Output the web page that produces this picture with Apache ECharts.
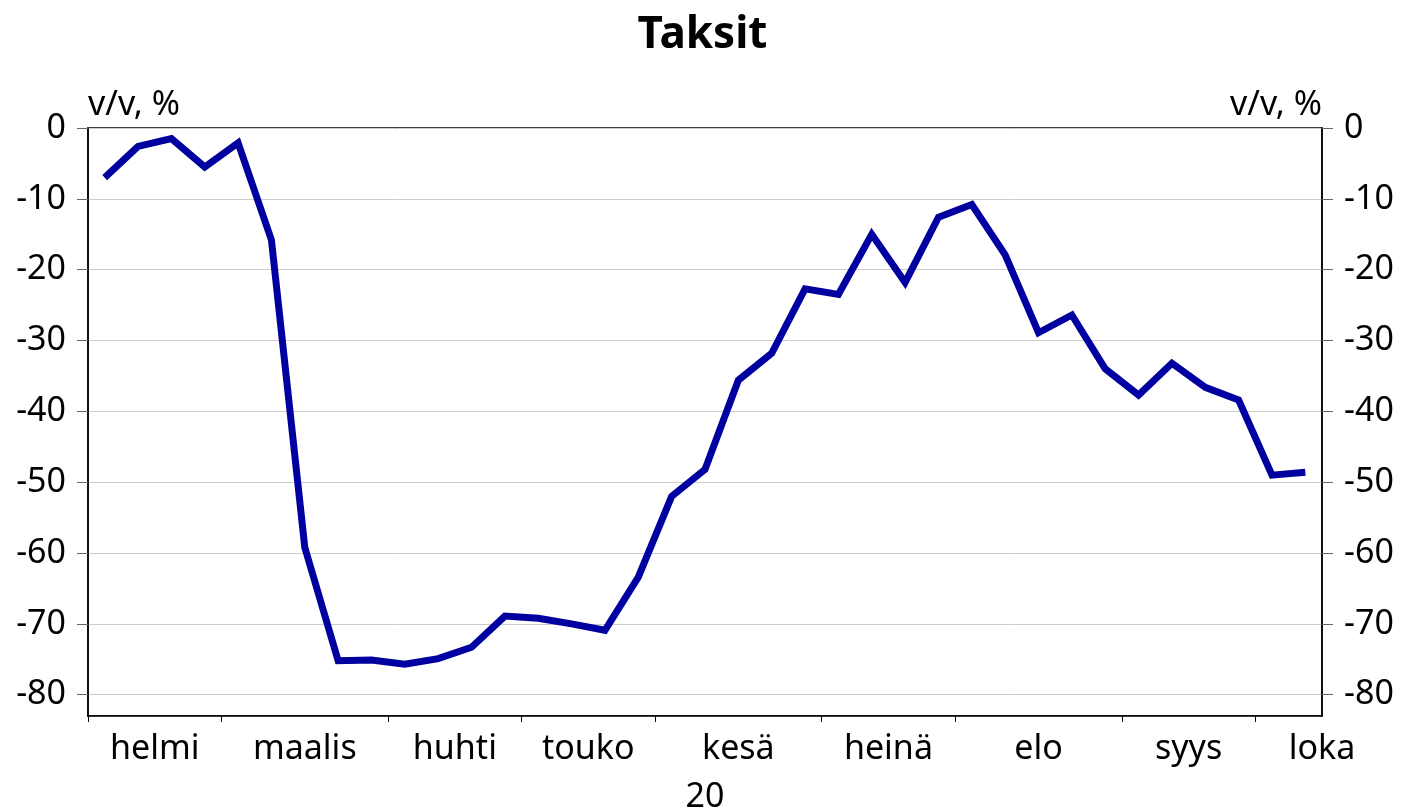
<!DOCTYPE html>
<html>
<head>
<meta charset="utf-8">
<script src="https://cdn.jsdelivr.net/npm/echarts@6/dist/echarts.min.js"></script>
<style>
html,body{margin:0;padding:0;background:#fff;}
#chart{width:1405px;height:812px;}
</style>
</head>
<body>
<div id="chart"></div>
<script>
// Weekly observations (week start dates), Feb–Oct 2020
const weeks = [
  '2020-02-03','2020-02-10','2020-02-17','2020-02-24',
  '2020-03-02','2020-03-09','2020-03-16','2020-03-23','2020-03-30',
  '2020-04-06','2020-04-13','2020-04-20','2020-04-27',
  '2020-05-04','2020-05-11','2020-05-18','2020-05-25',
  '2020-06-01','2020-06-08','2020-06-15','2020-06-22','2020-06-29',
  '2020-07-06','2020-07-13','2020-07-20','2020-07-27',
  '2020-08-03','2020-08-10','2020-08-17','2020-08-24','2020-08-31',
  '2020-09-07','2020-09-14','2020-09-21','2020-09-28',
  '2020-10-05','2020-10-12'
];
const taksit = [
  -7.0, -2.6, -1.5, -5.5,
  -2.1, -15.8, -59.2, -75.2, -75.1,
  -75.7, -74.9, -73.3, -68.9,
  -69.2, -70.0, -70.9, -63.4,
  -52.0, -48.2, -35.6, -31.8, -22.7,
  -23.5, -15.0, -21.8, -12.6,
  -10.8, -17.9, -28.9, -26.4, -34.0,
  -37.7, -33.2, -36.6, -38.4,
  -49.0, -48.6
];
const monthNames = ['helmi','maalis','huhti','touko','kesä','heinä','elo','syys','loka'];
// number of weeks in each month (loka taken as a full 4-week month for label centring)
const monthWeeks = [4,5,4,4,5,4,5,4,4];
const yearLabel = '20';
const titleText = 'Taksit';
const unitLabel = 'v/v, %';

// month boundaries and label centres in week units
const tickPos = [];
const labelPos = [];
let acc = 0;
monthWeeks.forEach(function (w) {
  tickPos.push(acc);
  labelPos.push(acc + w / 2);
  acc += w;
});
const labelMap = {};
labelPos.forEach(function (p, i) { labelMap[p.toFixed(2)] = monthNames[i]; });

const FONT = 'Noto Sans';
const FS = 34;
const chart = echarts.init(document.getElementById('chart'), null, {renderer: 'canvas'});
chart.setOption({
  animation: false,
  backgroundColor: '#fff',
  textStyle: {fontFamily: FONT},
  title: {
    text: titleText,
    left: 'center',
    top: 8,
    textStyle: {fontFamily: FONT, fontWeight: 'bold', fontSize: 44, color: '#000'}
  },
  grid: {
    left: 88, right: 83, top: 128, bottom: 96,
    outerBoundsMode: 'none',
    containLabel: false,
    show: true, borderColor: '#000', borderWidth: 1.5, backgroundColor: 'transparent'
  },
  xAxis: [
    {
      type: 'category',
      data: weeks,
      boundaryGap: true,
      show: false,
      axisLine: {onZero: false}
    },
    {
      type: 'value',
      min: 0,
      max: weeks.length,
      position: 'bottom',
      axisLine: {show: true, onZero: false, lineStyle: {color: '#000', width: 1.5}},
      axisTick: {show: true, customValues: tickPos, length: 6, lineStyle: {color: '#000', width: 1}},
      splitLine: {show: false},
      axisLabel: {
        customValues: labelPos,
        showMinLabel: true,
        showMaxLabel: true,
        margin: 16,
        fontSize: FS,
        color: '#000',
        fontFamily: FONT,
        formatter: function (v) { return labelMap[Number(v).toFixed(2)] || ''; }
      },
      name: yearLabel,
      nameLocation: 'middle',
      nameGap: 64,
      nameTextStyle: {fontSize: FS, color: '#000', fontFamily: FONT}
    }
  ],
  yAxis: [
    {
      type: 'value',
      min: -83,
      max: 0,
      splitNumber: 8,
      position: 'left',
      name: unitLabel,
      nameLocation: 'end',
      nameGap: 6,
      nameTextStyle: {fontSize: FS, color: '#000', align: 'left', fontFamily: FONT},
      axisLine: {show: true, lineStyle: {color: '#000', width: 1.5}},
      axisTick: {show: true, length: 11, lineStyle: {color: '#666', width: 1}},
      axisLabel: {showMinLabel: false, margin: 22, fontSize: FS, color: '#000', fontFamily: FONT},
      splitLine: {show: true, lineStyle: {color: '#cccccc', width: 1}}
    },
    {
      type: 'value',
      min: -83,
      max: 0,
      splitNumber: 8,
      position: 'right',
      name: unitLabel,
      nameLocation: 'end',
      nameGap: 6,
      nameTextStyle: {fontSize: FS, color: '#000', align: 'right', fontFamily: FONT},
      axisLine: {show: true, lineStyle: {color: '#000', width: 1.5}},
      axisTick: {show: true, length: 11, lineStyle: {color: '#666', width: 1}},
      axisLabel: {showMinLabel: false, margin: 22, fontSize: FS, color: '#000', fontFamily: FONT},
      splitLine: {show: false}
    }
  ],
  series: [
    {
      type: 'line',
      xAxisIndex: 0,
      yAxisIndex: 0,
      data: taksit,
      showSymbol: false,
      symbol: 'none',
      lineStyle: {color: '#0000a0', width: 7, join: 'miter', cap: 'butt'},
      z: 3
    }
  ]
});
</script>
</body>
</html>
